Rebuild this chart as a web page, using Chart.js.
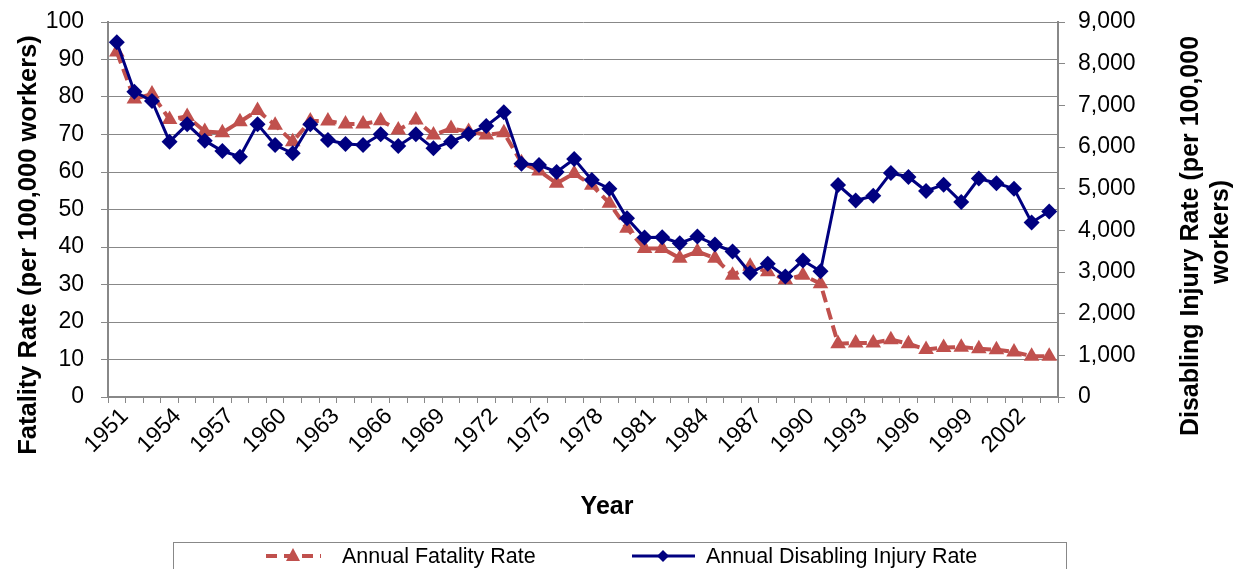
<!DOCTYPE html>
<html>
<head>
<meta charset="utf-8">
<script src="https://cdn.jsdelivr.net/npm/chart.js@4.4.1/dist/chart.umd.min.js"></script>
<style>
  html, body { margin: 0; padding: 0; background: #fff; }
  #wrap { width: 1240px; height: 569px; }
</style>
</head>
<body>
<div id="wrap"><canvas id="chart"></canvas></div>
<script>
// ----------------------------------------------------
// DATA
// ----------------------------------------------------
const years = [
  '1951','1952','1953','1954','1955','1956','1957','1958','1959','1960',
  '1961','1962','1963','1964','1965','1966','1967','1968','1969','1970',
  '1971','1972','1973','1974','1975','1976','1977','1978','1979','1980',
  '1981','1982','1983','1984','1985','1986','1987','1988','1989','1990',
  '1991','1992','1993','1994','1995','1996','1997','1998','1999','2000',
  '2001','2002','2003','2004'
];

// left axis, per 100,000 workers
const fatalityRate = [
  92, 79.5, 80.8, 74, 74.8, 70.8, 70.5, 73.4, 76.4, 72.5,
  68.1, 73.6, 73.6, 72.8, 72.8, 73.7, 71.2, 73.9, 69.9, 71.6,
  70.8, 69.9, 70.5, 62.5, 60.3, 57, 59.6, 56.5, 51.7, 45,
  39.6, 39.6, 37, 38.8, 37, 32.5, 34.9, 33.4, 31.3, 32.5,
  30.2, 14.2, 14.4, 14.4, 15.3, 14.2, 12.7, 13.2, 13.3, 12.9,
  12.6, 12.0, 10.9, 10.9
];

// right axis, per 100,000 workers
const injuryRate = [
  8512, 7328, 7104, 6128, 6544, 6152, 5904, 5768, 6544, 6048,
  5848, 6544, 6168, 6072, 6048, 6304, 6024, 6304, 5968, 6128,
  6312, 6504, 6832, 5600, 5568, 5400, 5712, 5208, 5000, 4290,
  3830, 3832, 3690, 3850, 3660, 3490, 2976, 3200, 2890, 3278,
  3019, 5088, 4716, 4828, 5378, 5280, 4944, 5095, 4682, 5242,
  5129, 5000, 4190, 4450
];

const seriesNames = ['Annual Fatality Rate', 'Annual Disabling Injury Rate'];
const leftTitle = 'Fatality Rate (per 100,000 workers)';
const rightTitle = ['Disabling Injury Rate (per 100,000', 'workers)'];
const xTitle = 'Year';

const RED = '#C0504D';
const NAVY = '#000080';
const GRID = '#888888';
const FONT = '"Liberation Sans", Arial, sans-serif';

Chart.defaults.font.family = FONT;
Chart.defaults.color = '#000';

function rotatedText(ctx, text, x, y) {
  ctx.save();
  ctx.translate(x, y);
  ctx.rotate(-Math.PI / 2);
  ctx.fillText(text, 0, 0);
  ctx.restore();
}

// axis titles + boxed legend (Excel style)
const decorPlugin = {
  id: 'decor',
  afterDraw(chart) {
    const ctx = chart.ctx;
    ctx.save();
    ctx.fillStyle = '#000';
    ctx.textAlign = 'center';
    ctx.textBaseline = 'middle';
    ctx.font = 'bold 25.5px ' + FONT;
    rotatedText(ctx, leftTitle, 29, 245);
    ctx.font = 'bold 25px ' + FONT;
    rotatedText(ctx, rightTitle[0], 1191, 236);
    rotatedText(ctx, rightTitle[1], 1221, 232);
    ctx.fillText(xTitle, 607, 507);

    // legend box
    ctx.strokeStyle = GRID;
    ctx.lineWidth = 1;
    ctx.strokeRect(173.5, 542.5, 893, 40);

    const ly = 556;
    // fatality entry
    ctx.strokeStyle = RED;
    ctx.lineWidth = 4;
    ctx.setLineDash([11, 7]);
    ctx.beginPath(); ctx.moveTo(266, ly); ctx.lineTo(321, ly); ctx.stroke();
    ctx.setLineDash([]);
    ctx.fillStyle = RED;
    ctx.beginPath();
    ctx.moveTo(293, ly - 8); ctx.lineTo(300, ly + 5); ctx.lineTo(286, ly + 5); ctx.closePath();
    ctx.fill();

    // injury entry
    ctx.strokeStyle = NAVY;
    ctx.lineWidth = 3;
    ctx.beginPath(); ctx.moveTo(632, ly); ctx.lineTo(695, ly); ctx.stroke();
    ctx.fillStyle = NAVY;
    ctx.beginPath();
    ctx.moveTo(663, ly - 6); ctx.lineTo(669, ly); ctx.lineTo(663, ly + 6); ctx.lineTo(657, ly); ctx.closePath();
    ctx.fill();

    ctx.fillStyle = '#000';
    ctx.textAlign = 'left';
    ctx.font = '21.5px ' + FONT;
    ctx.fillText(seriesNames[0], 342, ly + 1);
    ctx.fillText(seriesNames[1], 706, ly + 1);
    ctx.restore();
  }
};

const tickFont = { size: 23 };

new Chart(document.getElementById('chart'), {
  type: 'line',
  data: {
    labels: years,
    datasets: [
      {
        label: seriesNames[0],
        data: fatalityRate,
        yAxisID: 'y',
        order: 1,
        borderColor: RED,
        backgroundColor: RED,
        borderWidth: 4,
        borderDash: [12, 6],
        pointStyle: 'triangle',
        pointRadius: 9,
        pointBorderWidth: 0,
        tension: 0
      },
      {
        label: seriesNames[1],
        data: injuryRate,
        yAxisID: 'y1',
        order: 0,
        borderColor: NAVY,
        backgroundColor: NAVY,
        borderWidth: 3,
        pointStyle: 'rectRot',
        pointRadius: 8,
        pointBorderWidth: 0,
        tension: 0
      }
    ]
  },
  options: {
    responsive: true,
    maintainAspectRatio: false,
    animation: false,
    layout: { padding: { top: 22, left: 0, right: 0, bottom: 0 } },
    plugins: { legend: { display: false }, tooltip: { enabled: false } },
    scales: {
      x: {
        type: 'category',
        offset: true,
        grid: { offset: true, drawOnChartArea: false, tickLength: 6, color: GRID },
        border: { color: GRID, width: 2 },
        ticks: {
          autoSkip: false, maxRotation: 45, minRotation: 45,
          font: tickFont, color: '#000', padding: 0, labelOffset: 8,
          callback(v, i) { return i % 3 === 0 ? this.getLabelForValue(v) : ''; }
        },
        afterFit(s) { s.height = 172; }
      },
      y: {
        position: 'left',
        min: 0, max: 100,
        ticks: { stepSize: 10, font: tickFont, color: '#000', padding: 17 },
        grid: { color: GRID, tickLength: 7 },
        border: { color: GRID, width: 2 },
        afterFit(s) { s.width = 108; s.paddingTop = 0; s.paddingBottom = 0; }
      },
      y1: {
        position: 'right',
        min: 0, max: 9000,
        ticks: {
          stepSize: 1000, font: tickFont, color: '#000', padding: 13,
          callback: v => v.toLocaleString('en-US')
        },
        grid: { drawOnChartArea: false, tickLength: 7, color: GRID },
        border: { color: GRID, width: 2 },
        afterFit(s) { s.width = 182; s.paddingTop = 0; s.paddingBottom = 0; }
      }
    }
  },
  plugins: [decorPlugin]
});
</script>
</body>
</html>
